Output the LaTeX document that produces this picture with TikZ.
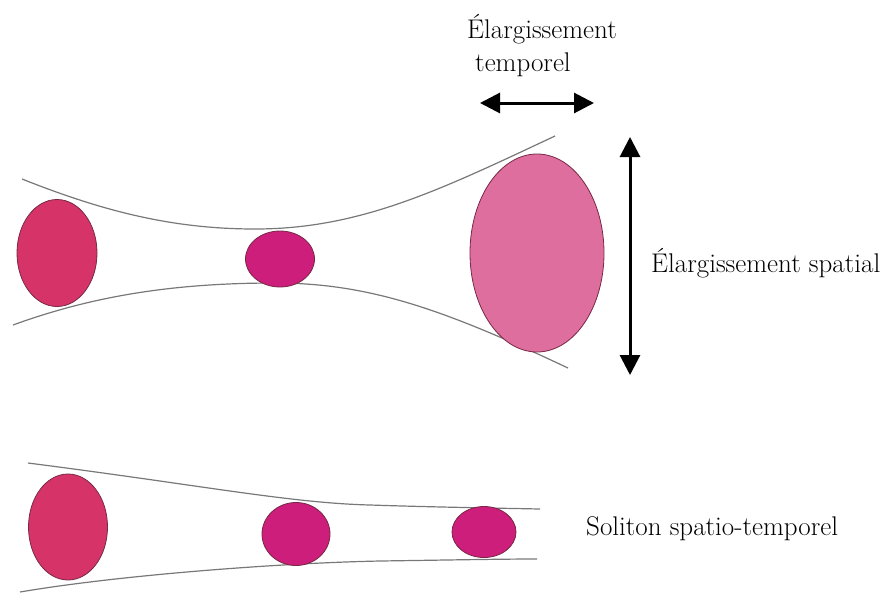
\documentclass[tikz,border=0pt]{standalone}
\usetikzlibrary{shapes.geometric,arrows.meta}
\definecolor{crim}{RGB}{214,52,104}
\definecolor{mag}{RGB}{204,30,122}
\definecolor{lpink}{RGB}{222,110,158}
\definecolor{edgec}{RGB}{120,40,70}
\definecolor{beam}{RGB}{120,120,120}
\tikzset{
  blob/.style={ellipse, draw=edgec, line width=0.8pt, inner sep=0pt},
  beamline/.style={draw=beam, line width=1.2pt},
  bigarrows/.style={line width=3pt, {Triangle[length=20pt,width=20pt]}-{Triangle[length=20pt,width=20pt]}},
  lbl/.style={inner sep=0pt, anchor=base west, font=\fontsize{27}{32}\selectfont}
}
\begin{document}
\begin{tikzpicture}[x=1pt,y=-1pt]
\useasboundingbox (0,0) rectangle (880,592);
% top beam envelope
\draw[beamline] (22,179) .. controls (100,210) and (170,229) .. (255,229)
                         .. controls (360,229) and (440,190) .. (555,136);
\draw[beamline] (13,325) .. controls (90,297) and (170,283) .. (275,283)
                         .. controls (370,283) and (445,310) .. (568,368);
% bottom beam envelope
\draw[beamline] (28,463) .. controls (200,485) and (290,503) .. (370,505)
                         .. controls (430,507) and (490,508) .. (540,509);
\draw[beamline] (20,592) .. controls (120,575) and (280,563) .. (380,561)
                         .. controls (450,560) and (500,559) .. (537,559);
% top pulses
\node[blob, fill=crim, minimum width=80pt, minimum height=107pt] (p1) at (57,253) {};
\node[blob, fill=mag, minimum width=69pt, minimum height=56pt] (p2) at (280,259) {};
\node[blob, fill=lpink, minimum width=134pt, minimum height=198pt] (p3) at (537,253) {};
% bottom pulses
\node[blob, fill=crim, minimum width=79pt, minimum height=106pt] (s1) at (68,527) {};
\node[blob, fill=mag, minimum width=68pt, minimum height=63pt] (s2) at (296,534) {};
\node[blob, fill=mag, minimum width=64pt, minimum height=51pt] (s3) at (484,532) {};
% arrows
\coordinate (hl) at (480,103);
\coordinate (hr) at (594,103);
\coordinate (vt) at (630,137);
\coordinate (vb) at (630,375);
\draw[bigarrows] (hl) -- (hr);
\draw[bigarrows] (vt) -- (vb);
% labels
\node[lbl] (t1) at (467,38) {Élargissement};
\node[lbl] (t2) at (475,71) {temporel};
\node[lbl] (t3) at (651,272) {Élargissement spatial};
\node[lbl] (t4) at (586,535) {Soliton spatio-temporel};
\end{tikzpicture}
\end{document}
